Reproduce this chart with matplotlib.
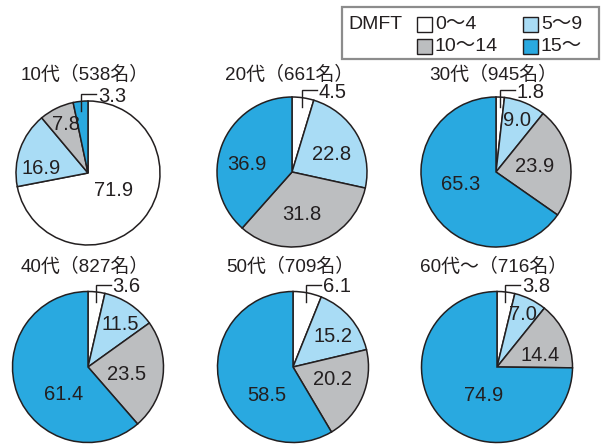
import math
import matplotlib
matplotlib.use("Agg")
import matplotlib.pyplot as plt
from matplotlib.patches import Rectangle

plt.rcParams["font.family"] = ["Liberation Sans", "Noto Sans CJK JP"]

# DMFT distribution (%) by age group, order: 0~4, 5~9, 10~14, 15~
groups = ["10代", "20代", "30代", "40代", "50代", "60代～"]
counts = [538, 661, 945, 827, 709, 716]
dmft_0_4 = [71.9, 4.5, 1.8, 3.6, 6.1, 3.8]
dmft_5_9 = [16.9, 22.8, 9.0, 11.5, 15.2, 7.0]
dmft_10_14 = [7.8, 31.8, 23.9, 23.5, 20.2, 14.4]
dmft_15_up = [3.3, 36.9, 65.3, 61.4, 58.5, 74.9]
legend_labels = ["0～4", "5～9", "10～14", "15～"]

colors = ["#ffffff", "#a9dcf5", "#bcbec0", "#29a9e0"]
edge = "#231f20"

W, H = 605, 444
fig = plt.figure(figsize=(W / 100, H / 100), dpi=100)
ax = fig.add_axes([0, 0, 1, 1])

# pie centres / radii in pixel units (y measured from the top)
centres = [(88, 173), (292, 172), (496, 172), (88, 367), (293, 367), (497, 367)]
radii = [72, 75, 75, 75.5, 75.5, 75.5]
title_y = [75, 75, 75, 267, 267, 267]

# label offsets from the pie centre (px, y downward); None -> leader line
label_offsets = [
    [(26, 17), (-47, -5), (-22, -48), None],
    [None, (40, -18), (10, 42), (-45, -7)],
    [None, (21, -52), (39, -6), (-35, 13)],
    [None, (32, -43), (39, 7), (-24, 27)],
    [None, (40, -31), (40, 12), (-26, 28)],
    [None, (26, -53), (43, -12), (-13, 28)],
]


def Y(y):
    return H - y


for i, name in enumerate(groups):
    vals = [dmft_0_4[i], dmft_5_9[i], dmft_10_14[i], dmft_15_up[i]]
    cx, cy = centres[i]
    r = radii[i]
    ax.pie(vals, colors=colors, startangle=90, counterclock=False,
           center=(cx, Y(cy)), radius=r, frame=True,
           wedgeprops=dict(edgecolor=edge, linewidth=1.1))

    ax.text(cx - 3, Y(title_y[i]), f"{name}（{counts[i]}名）", ha="center",
            va="center", fontsize=13.6, color=edge)

    start = 0.0
    for j, v in enumerate(vals):
        mid_deg = start + v * 1.8
        start += v * 3.6
        off = label_offsets[i][j]
        if off is not None:
            ax.text(cx + off[0], Y(cy + off[1]), f"{v:.1f}", ha="center",
                    va="center", fontsize=14.5, color=edge)
        else:
            # small slice: bracket leader up and to the right
            lx = cx + 0.9 * r * math.sin(math.radians(mid_deg))
            top = cy - r
            ax.plot([lx, lx, lx + 15], [Y(top + 10), Y(top - 7), Y(top - 7)],
                    color=edge, linewidth=1.0, solid_joinstyle="miter")
            ax.text(lx + 17, Y(top - 5), f"{v:.1f}", ha="left", va="center",
                    fontsize=14.5, color=edge)

# legend box
ax.add_patch(Rectangle((342, Y(59)), 257, 52, facecolor="white",
                       edgecolor="#8c8c8c", linewidth=1.6))
ax.text(348, Y(25), "DMFT", ha="left", va="center", fontsize=14, color=edge)
legend_pos = [(417, 25), (523, 25), (417, 47), (523, 47)]
for (lx, ly), c, lab in zip(legend_pos, colors, legend_labels):
    ax.add_patch(Rectangle((lx, Y(ly + 7.5)), 15, 15, facecolor=c,
                           edgecolor=edge, linewidth=1.0))
    ax.text(lx + 18, Y(ly), lab, ha="left", va="center", fontsize=14,
            color=edge)

ax.set_xlim(0, W)
ax.set_ylim(0, H)
ax.set_aspect("equal")
ax.axis("off")

fig.savefig("out.png", dpi=100, facecolor="white")
